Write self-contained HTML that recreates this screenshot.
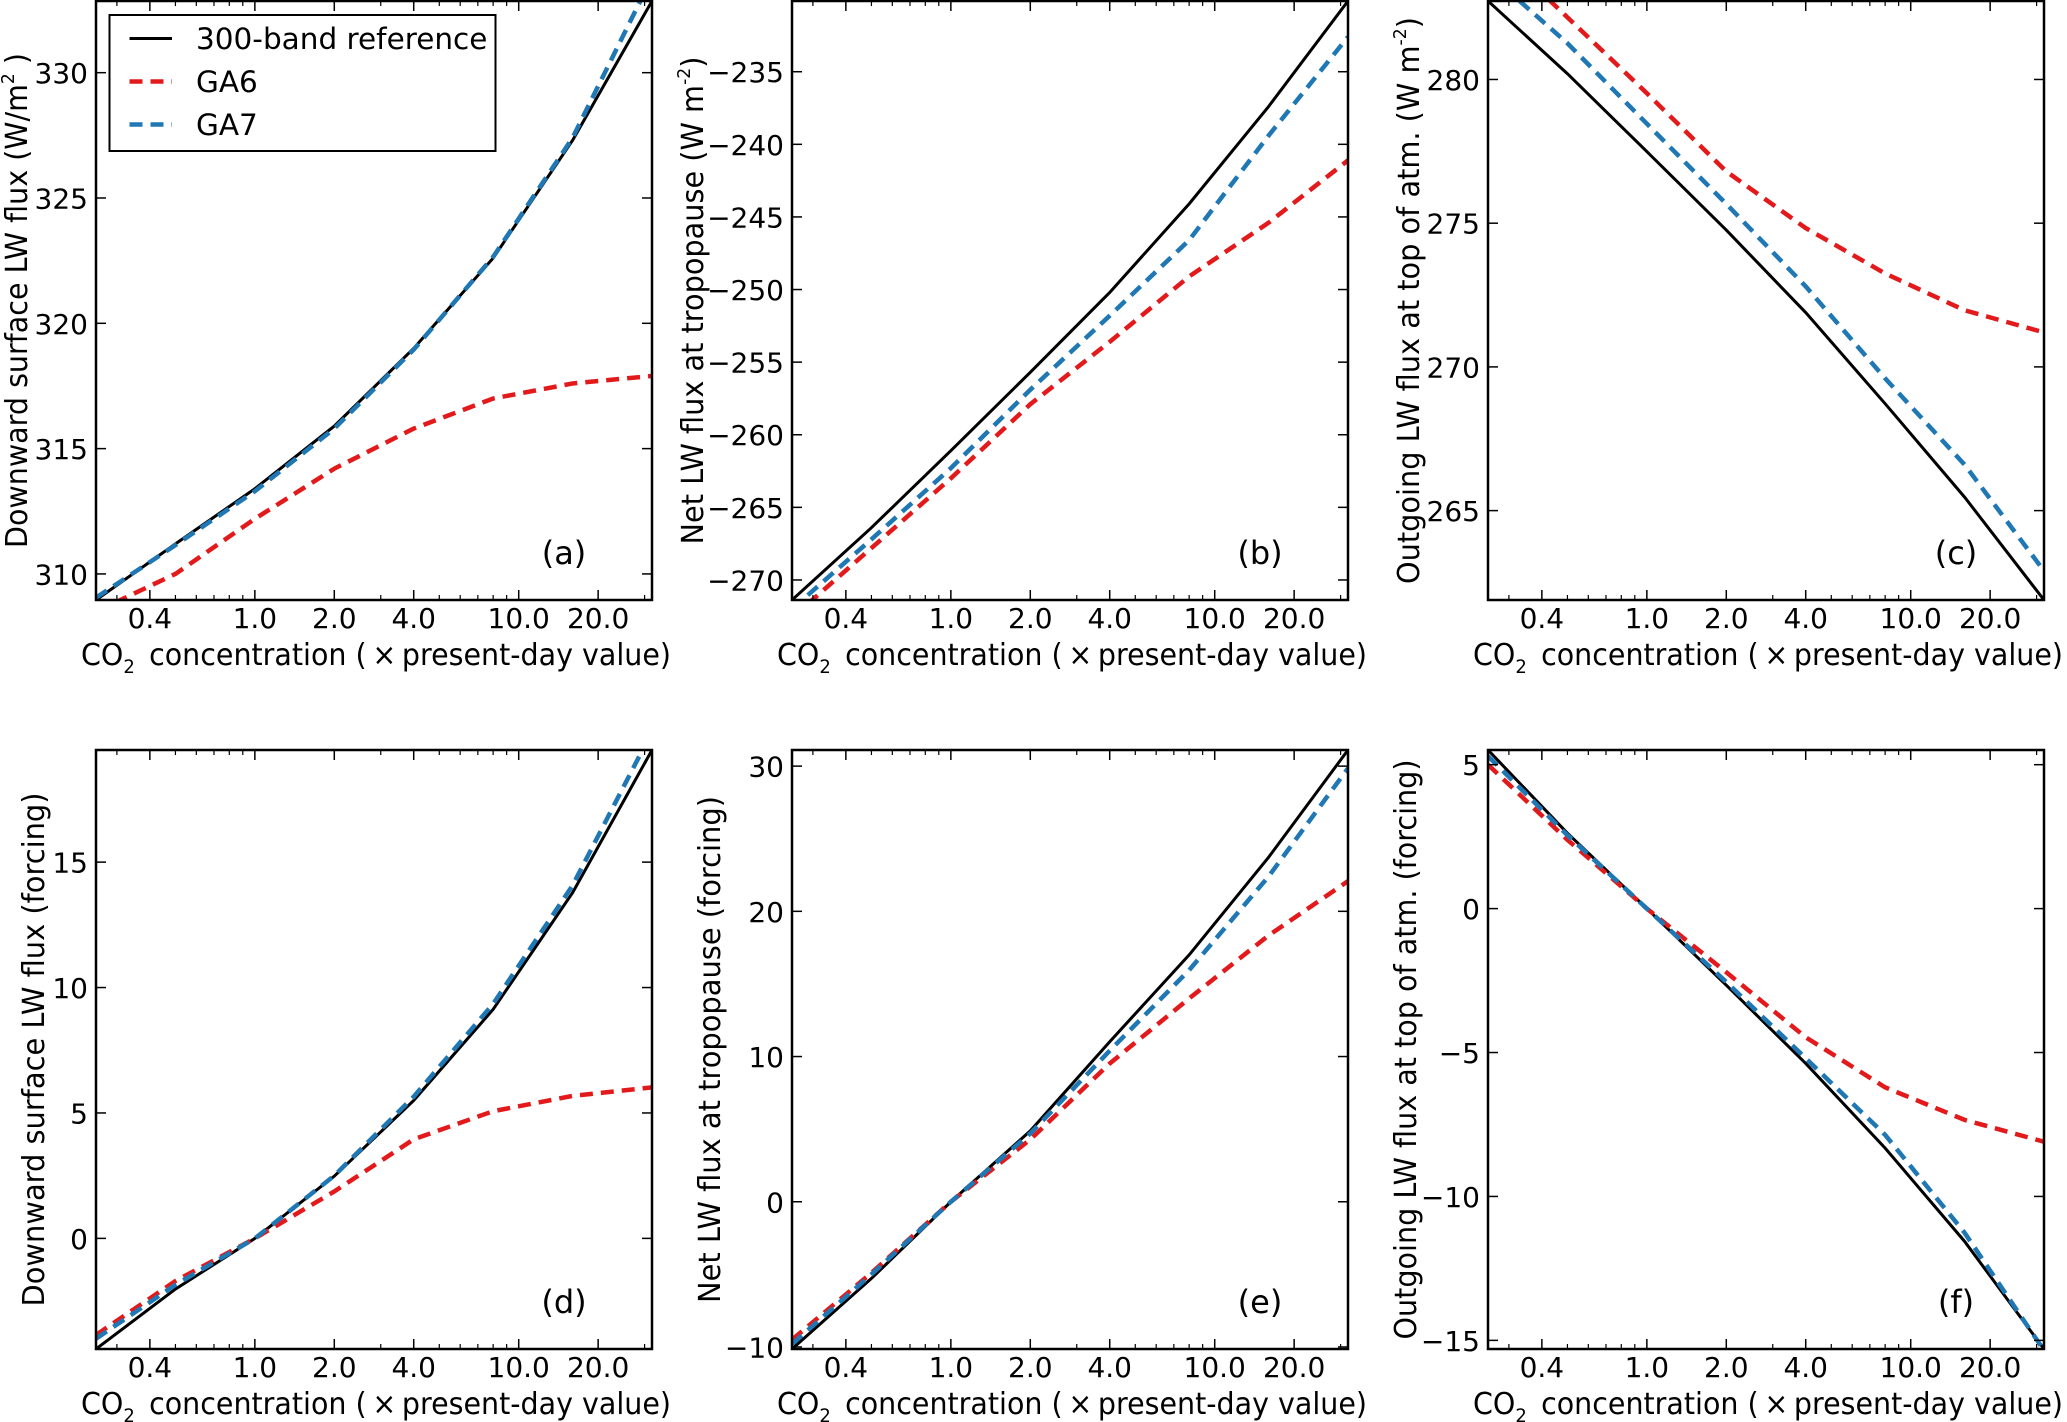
<!DOCTYPE html>
<html><head><meta charset="utf-8">
<style>
html,body{margin:0;padding:0;background:#fff;}
svg{display:block;font-family:"DejaVu Sans","Liberation Sans",sans-serif;}
</style></head>
<body>
<svg id="fig" width="2067" height="1422" viewBox="0 0 2067 1422" xmlns="http://www.w3.org/2000/svg"></svg>
<script>
// ---- shared data ----
const co2 = [0.25, 0.5, 1, 2, 4, 8, 16, 32];
const xTickVals = [0.4, 1, 2, 4, 10, 20];
const xTickLabels = ["0.4", "1.0", "2.0", "4.0", "10.0", "20.0"];
const xMinorVals = [0.3,0.5,0.6,0.7,0.8,0.9,3,5,6,7,8,9,30];

// panel (a)
const aRef = [308.96, 311.2, 313.4, 315.9, 319.0, 322.6, 327.3, 332.86];
const aGA6 = [308.5, 310.0, 312.2, 314.2, 315.8, 317.0, 317.6, 317.9];
const aGA7 = [309.05, 311.15, 313.3, 315.8, 318.95, 322.65, 327.4, 333.8];
const aTicks = [310, 315, 320, 325, 330];
// panel (b)
const bRef = [-271.38, -266.4, -261.1, -255.7, -250.2, -244.1, -237.4, -230.13];
const bGA6 = [-272.6, -267.8, -263.0, -257.9, -253.6, -249.1, -245.4, -241.1];
const bGA7 = [-272.0, -267.2, -262.3, -256.9, -251.8, -246.6, -239.4, -232.6];
const bTicks = [-270, -265, -260, -255, -250, -245, -240, -235];
// panel (c)
const cRef = [282.73, 280.2, 277.49, 274.76, 271.89, 268.72, 265.47, 261.89];
const cGA6 = [284.8, 282.16, 279.52, 276.8, 274.83, 273.25, 271.97, 271.2];
const cGA7 = [283.7, 281.26, 278.46, 275.67, 272.8, 269.6, 266.6, 262.9];
const cTicks = [265, 270, 275, 280];
// panel (d)
const dRef = [-4.41, -2.02, 0, 2.48, 5.5, 9.13, 13.78, 19.47];
const dGA6 = [-3.85, -1.7, 0, 1.87, 3.95, 5.07, 5.68, 6.02];
const dGA7 = [-4.0, -1.85, 0, 2.5, 5.65, 9.35, 14.07, 20.2];
const dTicks = [0, 5, 10, 15];
// panel (e)
const eRef = [-10.14, -5.28, 0, 4.88, 11.02, 17.0, 23.72, 31.11];
const eGA6 = [-9.5, -4.9, 0, 4.29, 9.52, 14.0, 18.34, 22.08];
const eGA7 = [-9.8, -5.0, 0, 4.7, 10.4, 15.95, 22.4, 29.85];
const eTicks = [-10, 0, 10, 20, 30];
// panel (f)
const fRef = [5.51, 2.62, 0, -2.66, -5.38, -8.32, -11.56, -15.3];
const fGA6 = [5.0, 2.39, 0, -2.21, -4.47, -6.21, -7.34, -8.1];
const fGA7 = [5.3, 2.55, 0, -2.55, -5.2, -7.86, -11.26, -15.35];
const fTicks = [-15, -10, -5, 0, 5];

const legendLabels = ["300-band reference", "GA6", "GA7"];

const NS = "http://www.w3.org/2000/svg";
const svg = document.getElementById("fig");
const RED = "#e31a1c", BLUE = "#1f77b4";

function mk(tag, attrs, parent) {
  const el = document.createElementNS(NS, tag);
  for (const k in attrs) el.setAttribute(k, attrs[k]);
  (parent || svg).appendChild(el);
  return el;
}
function fmt(v) { return (v < 0 ? "\u2212" + Math.abs(v) : String(v)); }

const panels = [
  {id:"a", left:96,  top:1,   yMin:308.96, yMax:332.86, ref:aRef, ga6:aGA6, ga7:aGA7, ticks:aTicks, ylab:"Downward surface LW flux (W/m", ysup:"2", yend:" )", ylx:27, ylen:495},
  {id:"b", left:792, top:1,   yMin:-271.38, yMax:-230.13, ref:bRef, ga6:bGA6, ga7:bGA7, ticks:bTicks, ylab:"Net LW flux at tropopause (W m", ysup:"-2", yend:")", ylx:703, ylen:488},
  {id:"c", left:1488,top:1,   yMin:261.89, yMax:282.73, ref:cRef, ga6:cGA6, ga7:cGA7, ticks:cTicks, ylab:"Outgoing LW flux at top of atm.  (W m", ysup:"-2", yend:")", ylx:1419, ylen:567},
  {id:"d", left:96,  top:750, yMin:-4.41, yMax:19.47, ref:dRef, ga6:dGA6, ga7:dGA7, ticks:dTicks, ylab:"Downward surface LW flux (forcing)", ylx:44, ylen:514},
  {id:"e", left:792, top:750, yMin:-10.14, yMax:31.11, ref:eRef, ga6:eGA6, ga7:eGA7, ticks:eTicks, ylab:"Net LW flux at tropopause (forcing)", ylx:720, ylen:507},
  {id:"f", left:1488,top:750, yMin:-15.3, yMax:5.51, ref:fRef, ga6:fGA6, ga7:fGA7, ticks:fTicks, ylab:"Outgoing LW flux at top of atm.  (forcing)", ylx:1416, ylen:580}
];
const W = 556, H = 599;
const XMIN = Math.log10(0.25), XMAX = Math.log10(32);

panels.forEach(function(p) {
  const g = mk("g", {});
  
  
  const xs = v => p.left + (Math.log10(v) - XMIN) / (XMAX - XMIN) * W;
  const ys = v => p.top + H - (v - p.yMin) / (p.yMax - p.yMin) * H;

  const cp = mk("clipPath", {id: "clip-" + p.id}, g);
  mk("rect", {x: p.left, y: p.top, width: W, height: H}, cp);

  const series = [
    {d: p.ref, name: "reference-line", color: "#000", w: 3, dash: null},
    {d: p.ga6, name: "ga6-line", color: RED, w: 4.5, dash: "13 8"},
    {d: p.ga7, name: "ga7-line", color: BLUE, w: 4.5, dash: "13 8"}
  ];
  series.forEach(function(s) {
    const pts = co2.map((c, i) => xs(c).toFixed(2) + "," + ys(s.d[i]).toFixed(2)).join(" ");
    const pl = mk("polyline", {points: pts, fill: "none", stroke: s.color, "stroke-width": s.w, "clip-path": "url(#clip-" + p.id + ")"}, g);
    if (s.dash) pl.setAttribute("stroke-dasharray", s.dash);
    
    
  });

  xTickVals.forEach(function(v, i) {
    const x = xs(v);
    mk("line", {x1: x, x2: x, y1: p.top + H, y2: p.top + H - 10, stroke: "#000", "stroke-width": 1.5}, g);
    mk("line", {x1: x, x2: x, y1: p.top, y2: p.top + 10, stroke: "#000", "stroke-width": 1.5}, g);
    const t = mk("text", {x: x, y: p.top + H + 28, "text-anchor": "middle", "font-size": 28}, g);
    t.textContent = xTickLabels[i];
    
    
  });
  xMinorVals.forEach(function(v) {
    const x = xs(v);
    mk("line", {x1: x, x2: x, y1: p.top + H, y2: p.top + H - 5, stroke: "#000", "stroke-width": 1.2}, g);
    mk("line", {x1: x, x2: x, y1: p.top, y2: p.top + 5, stroke: "#000", "stroke-width": 1.2}, g);
  });
  p.ticks.forEach(function(v) {
    const y = ys(v);
    mk("line", {x1: p.left, x2: p.left + 10, y1: y, y2: y, stroke: "#000", "stroke-width": 1.5}, g);
    mk("line", {x1: p.left + W, x2: p.left + W - 10, y1: y, y2: y, stroke: "#000", "stroke-width": 1.5}, g);
    const t = mk("text", {x: p.left - 8, y: y + 10.5, "text-anchor": "end", "font-size": 28}, g);
    t.textContent = fmt(v);
    
    
  });

  const fr = mk("rect", {x: p.left, y: p.top, width: W, height: H, fill: "none", stroke: "#000", "stroke-width": 2.5}, g);
  
  

  const xl = mk("text", {x: p.left + W / 2 - 295 + 2, y: p.top + H + 65, "font-size": 30, textLength: 590, lengthAdjust: "spacingAndGlyphs"}, g);
  
  
  const t1 = mk("tspan", {}, xl); t1.textContent = "CO";
  const t2 = mk("tspan", {"font-size": 19, dy: 8}, xl); t2.textContent = "2";
  const t3 = mk("tspan", {dy: -8}, xl); t3.textContent = "\u2002concentration (\u2009\u00d7\u2009present-day value)";

  const cy = p.top + H / 2;
  const yl = mk("text", {x: p.ylx, y: cy + p.ylen / 2, "font-size": 30, textLength: p.ylen, lengthAdjust: "spacingAndGlyphs", transform: "rotate(-90 " + p.ylx + " " + (cy + p.ylen / 2) + ")"}, g);
  
  
  // text runs along rotated axis starting at bottom
  yl.setAttribute("x", p.ylx);
  const s1 = mk("tspan", {}, yl); s1.textContent = p.ylab;
  if (p.ysup) {
    const s2 = mk("tspan", {"font-size": 18, dy: -13}, yl); s2.textContent = p.ysup;
    const s3 = mk("tspan", {dy: 13}, yl); s3.textContent = p.yend;
  }

  const pl = mk("text", {x: p.left + W - 88, y: p.top + H - 36, "text-anchor": "middle", "font-size": 32}, g);
  pl.textContent = "(" + p.id + ")";
  
  
});

const lg = mk("g", {});


mk("rect", {x: 109.5, y: 15, width: 386, height: 136, fill: "#fff", stroke: "#000", "stroke-width": 2}, lg);
const legColors = ["#000", RED, BLUE];
const legRows = [38.5, 81.5, 124.5];
legendLabels.forEach(function(lab, i) {
  const e = mk("g", {}, lg);
  
  
  const ln = mk("line", {x1: 129.5, x2: 172, y1: legRows[i], y2: legRows[i], stroke: legColors[i], "stroke-width": i === 0 ? 3 : 4.5}, e);
  if (i > 0) ln.setAttribute("stroke-dasharray", "13 8");
  const t = mk("text", {x: 196, y: legRows[i] + 10.5, "font-size": 29.5}, e);
  t.textContent = lab;
});
</script>
</body></html>
